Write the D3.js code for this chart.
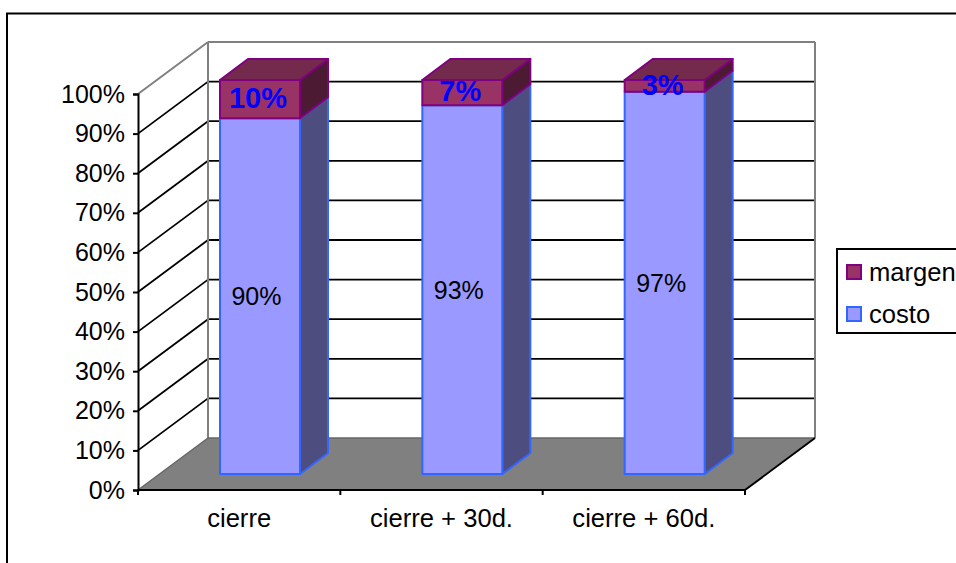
<!DOCTYPE html>
<html><head><meta charset="utf-8">
<script src="https://cdn.jsdelivr.net/npm/d3@7"></script>
<style>html,body{margin:0;padding:0;background:#fff}svg{display:block}text{font-family:"Liberation Sans",Arial,sans-serif}</style>
</head><body><svg id="chart" width="956" height="563"></svg>
<script>
const categories = ["cierre", "cierre + 30d.", "cierre + 60d."];
const costo = [90.3, 93.6, 97];
const margen = [9.7, 6.4, 3];
const costoLabels = ["90%", "93%", "97%"];
const margenLabels = ["10%", "7%", "3%"];
const yTicks = d3.range(0, 101, 10);
const seriesNames = ["margen", "costo"];
const costoFill = "#9999ff", costoEdge = "#3366ff", costoSide = "#4d4d7f";
const margenFill = "#993366", margenEdge = "#800080", margenTop = "#732a4d", margenSide = "#4d1a33";

const svg = d3.select("#chart");
const depth = {x: 70, y: -52};
const barDepth = {x: 28, y: -21};
const textSize = 25;

const x = d3.scaleBand().domain(categories).range([138, 745]);
const y = d3.scaleLinear().domain([0, 100]).range([490, 94]);
const yBar = d3.scaleLinear().domain([0, 100]).range([474, 80]);
const barLeft = d => x(d) + 82;
const barWidth = 80;

const poly = (pts, fill, stroke, sw) => svg.append("polygon")
  .attr("points", pts.map(p => p.join(",")).join(" "))
  .attr("fill", fill).attr("stroke", stroke || "none").attr("stroke-width", sw || 0)
  .attr("stroke-linejoin", "round");
const line = (x1, y1, x2, y2, c, w) => svg.append("line")
  .attr("x1", x1).attr("y1", y1).attr("x2", x2).attr("y2", y2)
  .attr("stroke", c).attr("stroke-width", w);

// Outer chart frame
svg.append("rect").attr("x", 7).attr("y", 13.5).attr("width", 960).attr("height", 560)
  .attr("fill", "#fff").attr("stroke", "#000").attr("stroke-width", 2);

const x0 = x.range()[0], x1 = x.range()[1];
const bx0 = x0 + depth.x, bx1 = x1 + depth.x;

// Floor
poly([[x0, y(0)], [bx0, y(0) + depth.y], [bx1, y(0) + depth.y], [x1, y(0)]], "#808080");

// Gridlines across side wall and back wall
yTicks.filter(t => t > 0 && t < 100).forEach(t => {
  line(x0, y(t), bx0, y(t) + depth.y, "#000", 1.8);
  line(bx0, y(t) + depth.y, bx1, y(t) + depth.y, "#000", 1.8);
});

// Wall outlines
line(x0, y(100), bx0, y(100) + depth.y, "#808080", 2);
line(bx0, y(100) + depth.y, bx1, y(100) + depth.y, "#808080", 2);
line(bx0, y(100) + depth.y, bx0, y(0) + depth.y, "#808080", 2);
line(bx1, y(100) + depth.y, bx1, y(0) + depth.y, "#808080", 2);
line(bx0, y(0) + depth.y, bx1, y(0) + depth.y, "#666", 1.5);
line(x0, y(0), bx0, y(0) + depth.y, "#666", 1.5);
line(x1, y(0), bx1, y(0) + depth.y, "#000", 2);

// Stacked 3D columns
categories.forEach((c, i) => {
  const l = barLeft(c), r = l + barWidth;
  const yb = yBar(0), ym = yBar(costo[i]), yt = yBar(100);
  const dx = barDepth.x, dy = barDepth.y;
  poly([[r, yb], [r + dx, yb + dy], [r + dx, ym + dy], [r, ym]], costoSide, costoEdge, 2);
  poly([[l, yb], [r, yb], [r, ym], [l, ym]], costoFill, costoEdge, 2);
  poly([[r, ym], [r + dx, ym + dy], [r + dx, yt + dy], [r, yt]], margenSide, margenEdge, 2);
  poly([[l, yt], [l + dx, yt + dy], [r + dx, yt + dy], [r, yt]], margenTop, margenEdge, 2);
  poly([[l, ym], [r, ym], [r, yt], [l, yt]], margenFill, margenEdge, 2);
});

// Value axis
svg.append("g").attr("transform", `translate(${x0},0)`)
  .call(d3.axisLeft(y).tickValues(yTicks).tickFormat(d => d + "%").tickSize(5).tickPadding(8))
  .call(g => g.select(".domain").attr("stroke", "#000").attr("stroke-width", 2))
  .call(g => g.selectAll("line").attr("stroke", "#000").attr("stroke-width", 2))
  .call(g => g.selectAll("text").attr("font-size", textSize).attr("font-family", '"Liberation Sans",Arial,sans-serif').attr("fill", "#000"));

// Category axis
line(x0, y(0), x1, y(0), "#000", 2);
d3.range(categories.length + 1).forEach(i => {
  const tx = x0 + i * x.step();
  line(tx, y(0), tx, y(0) + 5, "#000", 2);
});
svg.selectAll(".cat").data(categories).join("text").attr("class", "cat")
  .attr("x", d => x(d) + x.bandwidth() / 2).attr("y", 527)
  .attr("text-anchor", "middle").attr("font-size", 25.6).text(d => d);

// Data labels
svg.selectAll(".lc").data(categories).join("text").attr("class", "lc")
  .attr("x", (d, i) => barLeft(d) + 36.5).attr("y", (d, i) => yBar(costo[i] / 2) + 9)
  .attr("text-anchor", "middle").attr("font-size", textSize).text((d, i) => costoLabels[i]);
svg.selectAll(".lm").data(categories).join("text").attr("class", "lm")
  .attr("x", (d, i) => barLeft(d) + 38).attr("y", (d, i) => yBar(costo[i] + margen[i] / 2) + 8.7)
  .attr("text-anchor", "middle").attr("font-size", 29).attr("font-weight", "bold").attr("fill", "#0000ff")
  .text((d, i) => margenLabels[i]);

// Legend
svg.append("rect").attr("x", 837).attr("y", 249).attr("width", 140).attr("height", 84)
  .attr("fill", "#fff").attr("stroke", "#000").attr("stroke-width", 2);
const legendY = [272, 314];
seriesNames.forEach((n, i) => {
  svg.append("rect").attr("x", 847).attr("y", legendY[i] - 7).attr("width", 14).attr("height", 14)
    .attr("fill", i ? costoFill : margenFill).attr("stroke", i ? costoEdge : margenEdge).attr("stroke-width", 2);
  svg.append("text").attr("x", 869).attr("y", legendY[i] + 9).attr("font-size", 25.6).text(n);
});
</script></body></html>
